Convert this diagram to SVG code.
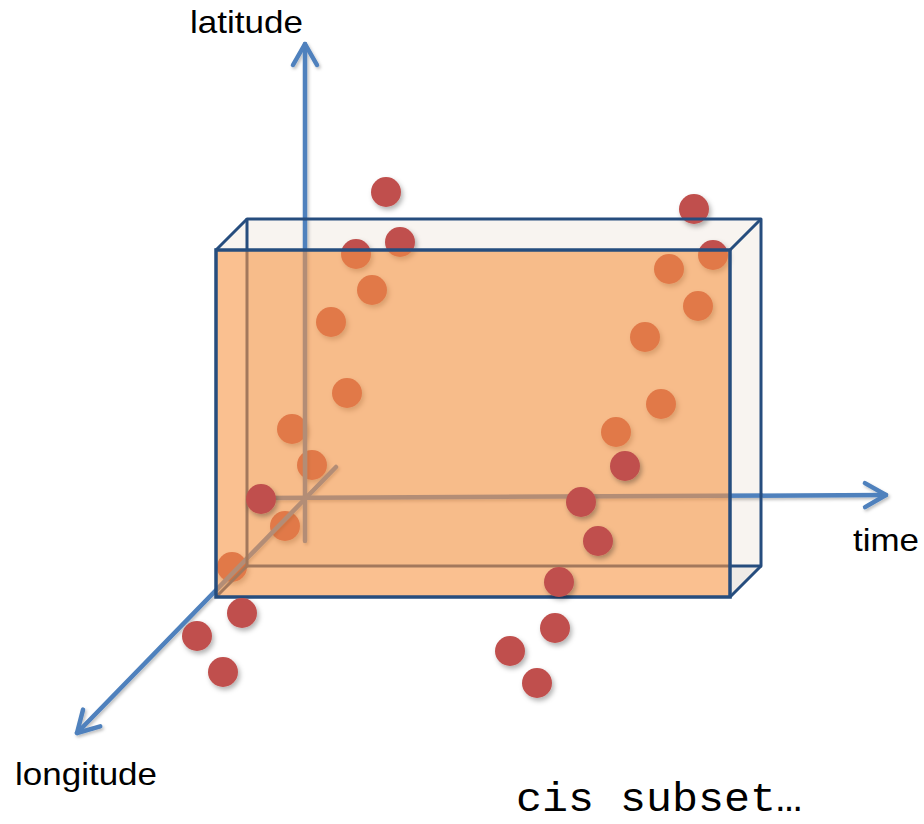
<svg xmlns="http://www.w3.org/2000/svg" width="924" height="824" viewBox="0 0 924 824">
<defs>
<style>
.lbl{font-family:"Liberation Sans","Open Sans",Arial,sans-serif;font-size:32px;fill:#000}
.mono{font-family:"Liberation Mono","DejaVu Sans Mono",monospace;font-size:40px;fill:#000}
.axis{stroke:#4F81BD;stroke-width:4.5;fill:none;stroke-linecap:round}
.edge{stroke:#264D7E;stroke-width:3;fill:none;stroke-linejoin:round}
.face{fill:#F8F4F0;stroke:none}
.dot{fill:#C0504D;filter:url(#sh)}
.front{fill:#F79646;fill-opacity:0.6;stroke:#264D7E;stroke-width:3.5}
</style>
<filter id="sh" x="-50%" y="-50%" width="200%" height="200%">
<feDropShadow dx="2" dy="3" stdDeviation="2.5" flood-color="#000" flood-opacity="0.3"/>
</filter>
<filter id="ash" x="-10%" y="-10%" width="120%" height="120%">
<feDropShadow dx="1.5" dy="2" stdDeviation="1.5" flood-color="#000" flood-opacity="0.25"/>
</filter>
<marker id="chev" markerUnits="userSpaceOnUse" viewBox="-26 -16 30 32" refX="0" refY="0" markerWidth="30" markerHeight="32" orient="auto">
<path d="M-21,-12 L0,0 L-21,12" fill="none" stroke="#4F81BD" stroke-width="4.5" stroke-linecap="round" stroke-linejoin="round"/>
</marker>
</defs>
<rect width="924" height="824" fill="#fff"/>

<g id="box-back">
<rect x="247" y="219" width="514" height="347" fill="#F8F4F0"/>
<polygon class="face" points="216,250 247,219 761,219 730,250"/>
<polygon class="face" points="730,250 761,219 761,566 730,597"/>
<polygon points="730,597 761,566 730,566" fill="#EFEBE7"/>
</g>

<g id="points-behind">
<circle class="dot" cx="386" cy="192" r="15"/>
<circle class="dot" cx="400" cy="242" r="15"/>
<circle class="dot" cx="356" cy="254" r="15"/>
<circle class="dot" cx="372" cy="290" r="15"/>
<circle class="dot" cx="331" cy="322" r="15"/>
<circle class="dot" cx="347" cy="393" r="15"/>
<circle class="dot" cx="292" cy="429" r="15"/>
<circle class="dot" cx="312" cy="465" r="15"/>
<circle class="dot" cx="285" cy="526" r="15"/>
<circle class="dot" cx="232" cy="567" r="15"/>
<circle class="dot" cx="694" cy="209" r="15"/>
<circle class="dot" cx="713" cy="255" r="15"/>
<circle class="dot" cx="669" cy="269" r="15"/>
<circle class="dot" cx="698" cy="306" r="15"/>
<circle class="dot" cx="645" cy="337" r="15"/>
<circle class="dot" cx="661" cy="404" r="15"/>
<circle class="dot" cx="616" cy="432" r="15"/>
</g>

<g id="connectors" filter="url(#ash)">
<line id="latitude-axis" class="axis" x1="305" y1="541" x2="305" y2="44" marker-end="url(#chev)"/>
<line id="time-axis" class="axis" x1="262" y1="498" x2="886" y2="495" marker-end="url(#chev)"/>
<line id="longitude-axis" class="axis" x1="336" y1="467" x2="77" y2="733" marker-end="url(#chev)"/>
</g>

<g id="box-edges">
<rect class="edge" x="247" y="219" width="514" height="347"/>
<line class="edge" x1="216" y1="250" x2="247" y2="219"/>
<line class="edge" x1="730" y1="250" x2="761" y2="219"/>
<line class="edge" x1="730" y1="597" x2="761" y2="566"/>
<line class="edge" x1="216" y1="597" x2="247" y2="566"/>
</g>

<g id="box-front">
<rect class="front" x="216" y="250" width="514" height="347"/>
</g>

<g id="points-front">
<circle class="dot" cx="261" cy="499" r="15"/>
<circle class="dot" cx="242" cy="613" r="15"/>
<circle class="dot" cx="197" cy="636" r="15"/>
<circle class="dot" cx="223" cy="672" r="15"/>
<circle class="dot" cx="625" cy="466" r="15"/>
<circle class="dot" cx="581" cy="502" r="15"/>
<circle class="dot" cx="598" cy="541" r="15"/>
<circle class="dot" cx="559" cy="582" r="15"/>
<circle class="dot" cx="555" cy="628" r="15"/>
<circle class="dot" cx="510" cy="651" r="15"/>
<circle class="dot" cx="537" cy="683" r="15"/>
</g>

<g id="labels">
<text class="lbl" x="190" y="33" textLength="113" lengthAdjust="spacingAndGlyphs">latitude</text>
<text class="lbl" x="853" y="551" textLength="66" lengthAdjust="spacingAndGlyphs">time</text>
<text class="lbl" x="15" y="785" textLength="142" lengthAdjust="spacingAndGlyphs">longitude</text>
<text class="mono" x="516" y="811" textLength="286" lengthAdjust="spacingAndGlyphs">cis subset…</text>
</g>
</svg>
